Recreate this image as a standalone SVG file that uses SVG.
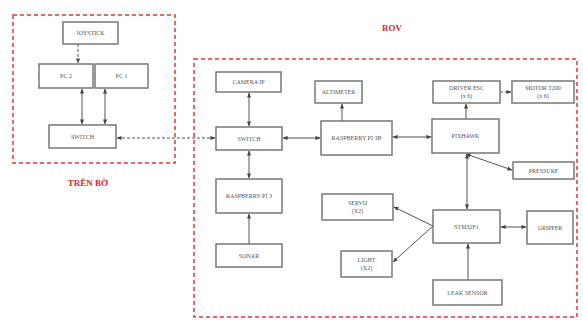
<svg xmlns="http://www.w3.org/2000/svg" width="583" height="323" viewBox="0 0 583 323">
<style>
.frame{fill:none;stroke:#e03a3a;stroke-width:1.5;stroke-dasharray:4 3}
.box{fill:#fff;stroke:#6e6e6e;stroke-width:1.4}
.t{font-family:"Liberation Serif",serif;font-size:6px;fill:#555;text-anchor:middle}
.title{font-family:"Liberation Serif",serif;font-size:9px;font-weight:bold;fill:#d42a2a;text-anchor:middle}
.c{fill:none;stroke:#555;stroke-width:1}
.d{stroke-dasharray:3 2}
</style>
<defs>
<marker id="ah" viewBox="0 0 6 6" refX="5.5" refY="3" markerWidth="5" markerHeight="5" orient="auto-start-reverse">
<path d="M0,0.5 L6,3 L0,5.5 Z" fill="#444"/>
</marker>
</defs>
<rect width="583" height="323" fill="#fff"/>
<g id="frames">
<rect class="frame" x="13" y="15" width="162" height="148"/>
<rect class="frame" x="194" y="59" width="383" height="258"/>
<text class="title" x="88" y="186">TRÊN BỜ</text>
<text class="title" x="392" y="31">ROV</text>
</g>
<g id="connectors">
<line class="c d" x1="78" y1="44" x2="78" y2="63" marker-end="url(#ah)"/>
<line class="c" x1="82" y1="89" x2="82" y2="124" marker-start="url(#ah)" marker-end="url(#ah)"/>
<line class="c" x1="105" y1="89" x2="105" y2="124" marker-start="url(#ah)" marker-end="url(#ah)"/>
<line class="c d" x1="117" y1="138" x2="215" y2="138" marker-start="url(#ah)" marker-end="url(#ah)"/>
<line class="c" x1="249" y1="93" x2="249" y2="126" marker-start="url(#ah)" marker-end="url(#ah)"/>
<line class="c" x1="283" y1="138" x2="320" y2="138" marker-start="url(#ah)" marker-end="url(#ah)"/>
<line class="c" x1="342" y1="121" x2="342" y2="104" marker-end="url(#ah)"/>
<line class="c" x1="249" y1="151" x2="249" y2="178" marker-start="url(#ah)" marker-end="url(#ah)"/>
<line class="c" x1="249" y1="244" x2="249" y2="214" marker-end="url(#ah)"/>
<line class="c" x1="393" y1="137" x2="431" y2="137" marker-start="url(#ah)" marker-end="url(#ah)"/>
<line class="c" x1="466" y1="119" x2="466" y2="104" marker-end="url(#ah)"/>
<line class="c d" x1="500" y1="92" x2="511" y2="92" marker-end="url(#ah)"/>
<line class="c" x1="466" y1="154" x2="512" y2="170" marker-start="url(#ah)" marker-end="url(#ah)"/>
<line class="c" x1="467" y1="154" x2="467" y2="209" marker-start="url(#ah)" marker-end="url(#ah)"/>
<line class="c" x1="501" y1="227" x2="526" y2="227" marker-start="url(#ah)" marker-end="url(#ah)"/>
<line class="c" x1="433" y1="226" x2="394" y2="207" marker-end="url(#ah)"/>
<line class="c" x1="433" y1="226" x2="393" y2="262" marker-end="url(#ah)"/>
<line class="c" x1="468" y1="280" x2="468" y2="244" marker-end="url(#ah)"/>
</g>
<g id="joystick"><rect class="box" x="63" y="22" width="55" height="22"/><text class="t" x="90.5" y="35">JOYSTICK</text></g>
<g id="pc2"><rect class="box" x="39" y="64" width="54" height="24"/><text class="t" x="66" y="78">PC 2</text></g>
<g id="pc1"><rect class="box" x="95" y="64" width="53" height="24"/><text class="t" x="121.5" y="78">PC 1</text></g>
<g id="switch-shore"><rect class="box" x="49" y="125" width="67" height="23"/><text class="t" x="82.5" y="138.5">SWITCH</text></g>
<g id="camera"><rect class="box" x="216" y="72" width="65" height="20"/><text class="t" x="248.5" y="84">CAMERA IP</text></g>
<g id="switch-rov"><rect class="box" x="216" y="127" width="66" height="23"/><text class="t" x="249" y="140.5">SWITCH</text></g>
<g id="altimeter"><rect class="box" x="315" y="81" width="47" height="22"/><text class="t" x="338.5" y="94">ALTIMETER</text></g>
<g id="rpi3b"><rect class="box" x="321" y="121" width="71" height="34"/><text class="t" x="356.5" y="140">RASPBERRY PI 3B</text></g>
<g id="rpi3"><rect class="box" x="216" y="179" width="66" height="34"/><text class="t" x="249" y="198">RASPBERRY PI 3</text></g>
<g id="sonar"><rect class="box" x="216" y="244" width="66" height="23"/><text class="t" x="249" y="257.5">SONAR</text></g>
<g id="driver"><rect class="box" x="433" y="81" width="67" height="22"/><text class="t" x="466.5" y="90">DRIVER ESC</text><text class="t" x="466.5" y="98">(x 6)</text></g>
<g id="motor"><rect class="box" x="512" y="81" width="62" height="22"/><text class="t" x="543" y="90">MOTOR T200</text><text class="t" x="543" y="98">(x 6)</text></g>
<g id="pixhawk"><rect class="box" x="432" y="119" width="67" height="34"/><text class="t" x="465.5" y="138">PIXHAWK</text></g>
<g id="pressure"><rect class="box" x="513" y="162" width="61" height="17"/><text class="t" x="543.5" y="172.5">PRESSURE</text></g>
<g id="servo"><rect class="box" x="322" y="194" width="71" height="26"/><text class="t" x="357.5" y="205">SERVO</text><text class="t" x="357.5" y="213">(X2)</text></g>
<g id="light"><rect class="box" x="341" y="251" width="51" height="26"/><text class="t" x="366.5" y="262">LIGHT</text><text class="t" x="366.5" y="270">(X2)</text></g>
<g id="stm32"><rect class="box" x="433" y="210" width="67" height="33"/><text class="t" x="466.5" y="228.5">STM32F1</text></g>
<g id="gripper"><rect class="box" x="527" y="211" width="46" height="33"/><text class="t" x="550" y="229.5">GRIPPER</text></g>
<g id="leak"><rect class="box" x="433" y="280" width="69" height="25"/><text class="t" x="467.5" y="294.5">LEAK SENSOR</text></g>
</svg>
